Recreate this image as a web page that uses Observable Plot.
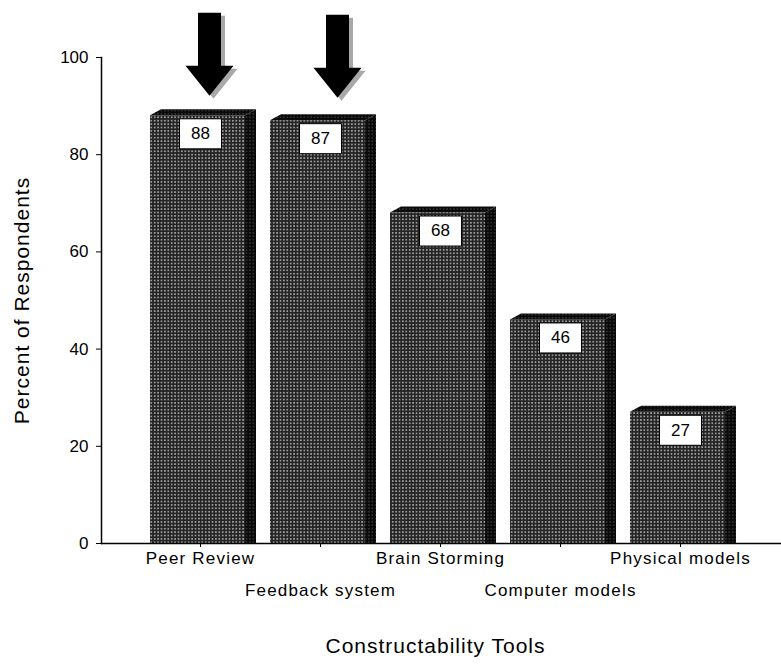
<!DOCTYPE html>
<html>
<head>
<meta charset="utf-8">
<script src="https://cdn.jsdelivr.net/npm/d3@7"></script>
<script src="https://cdn.jsdelivr.net/npm/@observablehq/plot@0.6"></script>
<style>
  html, body { margin: 0; padding: 0; background: #fff; }
  #chart svg { display: block; overflow: visible; }
  .spaced text { letter-spacing: 1.2px; }
  .title text { letter-spacing: 1px; }
</style>
</head>
<body>
<div id="chart"></div>
<script>
// Constructability tools and share of respondents using each
const tools = ["Peer Review", "Feedback system", "Brain Storming", "Computer models", "Physical models"];
const percents = [88, 87, 68, 46, 27];
const yTicks = [0, 20, 40, 60, 80, 100];
const highlighted = ["Peer Review", "Feedback system"];
const xTitle = "Constructability Tools";
const yTitle = "Percent of Respondents";

const rows = tools.map((tool, i) => ({tool, pct: percents[i], row: i % 2}));
const marked = rows.filter(d => highlighted.includes(d.tool));

const NS = "http://www.w3.org/2000/svg";
const el = (name, attrs) => {
  const e = document.createElementNS(NS, name);
  for (const k in attrs) e.setAttribute(k, attrs[k]);
  return e;
};

// halftone fills for the bar faces
function patterns() {
  const defs = el("defs", {});
  const make = (id, bg, dot, r) => {
    const p = el("pattern", {id, patternUnits: "userSpaceOnUse", width: 3.4, height: 3.4});
    p.appendChild(el("rect", {width: 3.4, height: 3.4, fill: bg}));
    p.appendChild(el("circle", {cx: 1.7, cy: 1.7, r, fill: dot}));
    defs.appendChild(p);
  };
  make("dots", "#242424", "#cfcfcf", 0.8);
  make("dots-dark", "#090909", "#5e5e5e", 0.7);
  return defs;
}

const insetL = 10, insetR = 15, depthX = 11, depthY = 6;

// top and side faces of each bar, placed with the plot's scales
function barFaces(index, scales) {
  const g = el("g", {fill: "url(#dots-dark)"});
  const bw = scales.x.bandwidth();
  for (const d of rows) {
    const x0 = scales.x(d.tool) + insetL;
    const x1 = scales.x(d.tool) + bw - insetR;
    const yt = scales.y(d.pct), yb = scales.y(0);
    g.appendChild(el("polygon", {points: `${x0},${yt} ${x0 + depthX},${yt - depthY} ${x1 + depthX},${yt - depthY} ${x1},${yt}`}));
    g.appendChild(el("polygon", {points: `${x1},${yt} ${x1 + depthX},${yt - depthY} ${x1 + depthX},${yb} ${x1},${yb}`}));
  }
  return g;
}

// block arrow pointing down, tip at the origin
const downArrow = {
  draw(ctx) {
    ctx.moveTo(-11.5, -83);
    ctx.lineTo(11.5, -83);
    ctx.lineTo(11.5, -30);
    ctx.lineTo(24, -30);
    ctx.lineTo(0, 0);
    ctx.lineTo(-24, -30);
    ctx.lineTo(-11.5, -30);
    ctx.closePath();
  }
};
// white value box
const valueBox = {
  draw(ctx) { ctx.rect(-21, -15, 42, 30); }
};

const arrowMarks = [];
const arrowOffsets = [{dx: 9, dy: -20}, {dx: 17, dy: -23}];
marked.forEach((d, i) => {
  const o = arrowOffsets[i] || {dx: 12, dy: -21};
  arrowMarks.push(Plot.dot([d], {x: "tool", y: "pct", symbol: downArrow, r: 10, fill: "#a8a8a8", stroke: "none", dx: o.dx + 4, dy: o.dy + 3}));
  arrowMarks.push(Plot.dot([d], {x: "tool", y: "pct", symbol: downArrow, r: 10, fill: "#000", stroke: "none", dx: o.dx, dy: o.dy}));
});

const chart = Plot.plot({
  width: 781,
  height: 668,
  marginLeft: 101,
  marginRight: 0,
  marginTop: 57,
  marginBottom: 125,
  style: {fontFamily: "'Liberation Sans', Arial, sans-serif", color: "#000", background: "#fff"},
  x: {domain: tools, range: [140, 740], padding: 0, axis: null},
  y: {domain: [0, 100], axis: null},
  marks: [
    patterns,
    Plot.axisY({ticks: yTicks, tickSize: 5, tickPadding: 8, fontSize: 17, label: null}),
    Plot.frame({anchor: "left", strokeWidth: 1.5}),
    Plot.barY(rows, {x: "tool", y: "pct", fill: "url(#dots)", insetLeft: insetL, insetRight: insetR}),
    barFaces,
    Plot.ruleY([0], {strokeWidth: 1.5}),
    Plot.axisX({tickSize: 4, tickFormat: () => "", label: null}),
    Plot.text(rows.filter(d => d.row === 0), {x: "tool", text: "tool", frameAnchor: "bottom", dy: 20, fontSize: 17, className: "spaced"}),
    Plot.text(rows.filter(d => d.row === 1), {x: "tool", text: "tool", frameAnchor: "bottom", dy: 52, fontSize: 17, className: "spaced"}),
    Plot.dot(rows, {x: "tool", y: "pct", symbol: valueBox, r: 10, fill: "#fff", stroke: "#000", strokeWidth: 1, dy: 18}),
    Plot.text(rows, {x: "tool", y: "pct", text: d => String(d.pct), dy: 18, fontSize: 17}),
    ...arrowMarks,
    Plot.text([xTitle], {frameAnchor: "bottom", dx: -6, dy: 109, fontSize: 21, className: "title"}),
    Plot.text([yTitle], {frameAnchor: "left", textAnchor: "middle", dx: -79, rotate: -90, fontSize: 21, className: "title"})
  ]
});

document.getElementById("chart").appendChild(chart);
</script>
</body>
</html>
